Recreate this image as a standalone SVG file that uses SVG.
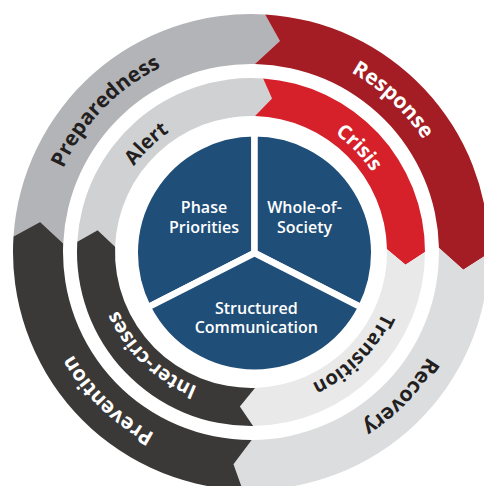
<svg xmlns="http://www.w3.org/2000/svg" width="484" height="486" viewBox="0 0 484 486">
<style>
.ring{font-family:"Open Sans","Liberation Sans",sans-serif;font-weight:700;text-anchor:middle}
.o{font-size:21px}
.i{font-size:20px}
.dk{fill:#231f20}
.wh{fill:#ffffff}
.pie{fill:#1f4e79;stroke:#ffffff;stroke-width:6.5;stroke-linejoin:round}
.pt{font-family:"Open Sans","Liberation Sans",sans-serif;font-weight:600;font-size:16px;fill:#ffffff;text-anchor:middle}
</style>
<defs>
<path id="aPrep" d="M66.3 342.1 A205.5 205.5 0 0 1 334.6 64.3"/>
<path id="aResp" d="M157.7 68.9 A205.5 205.5 0 0 1 440.2 332.3"/>
<path id="aReco" d="M435.7 161.9 A205.5 205.5 0 0 1 167.4 439.7"/>
<path id="aPrev" d="M341.1 436.7 A205.5 205.5 0 0 1 63.3 168.4"/>
<path id="aAler" d="M118.5 311.0 A145 145 0 0 1 314.6 121.7"/>
<path id="aCris" d="M192.0 119.5 A145 145 0 0 1 381.3 315.6"/>
<path id="aTran" d="M382.4 190.7 A145 145 0 0 1 189.7 383.4"/>
<path id="aInte" d="M314.6 382.3 A145 145 0 0 1 118.5 193.0"/>
</defs>
<rect width="484" height="486" fill="#ffffff"/>
<g id="preparedness">
<path fill="#b3b4b7" d="M13.5 236.6 A238 238 0 0 1 265.1 14.4 L279.9 41.0 L254.9 64.0 A188 188 0 0 0 63.2 243.5 L40.1 222.0 Z"/>
<text class="ring o dk"><textPath href="#aPrep" startOffset="50%">Preparedness</textPath></text>
</g>
<g id="response">
<path fill="#a41d24" d="M265.1 14.4 A238 238 0 0 1 489.0 253.2 L463.3 269.8 L439.0 248.1 A188 188 0 0 0 254.9 64.0 L279.9 41.0 Z"/>
<text class="ring o wh"><textPath href="#aResp" startOffset="50%">Response</textPath></text>
</g>
<g id="recovery">
<path fill="#dcdddf" d="M489.0 253.2 A238 238 0 0 1 242.7 489.9 L233.5 464.3 L251.7 440.0 A188 188 0 0 0 439.0 248.1 L463.3 269.8 Z"/>
<text class="ring o dk"><textPath href="#aReco" startOffset="50%">Recovery</textPath></text>
</g>
<g id="prevention">
<path fill="#3a3937" d="M242.7 489.9 A238 238 0 0 1 13.5 236.6 L40.1 222.0 L63.2 243.5 A188 188 0 0 0 251.7 440.0 L233.5 464.3 Z"/>
<text class="ring o wh"><textPath href="#aPrev" startOffset="50%">Prevention</textPath></text>
</g>
<g id="alert">
<path fill="#d0d1d3" d="M77.3 241.7 A174 174 0 0 1 263.1 78.4 L272.0 98.4 L255.0 116.1 A136 136 0 0 0 115.1 246.8 L97.6 230.2 Z"/>
<text class="ring i dk"><textPath href="#aAler" startOffset="50%">Alert</textPath></text>
</g>
<g id="crisis">
<path fill="#d6202a" d="M263.1 78.4 A174 174 0 0 1 425.0 252.0 L405.5 264.7 L387.0 249.2 A136 136 0 0 0 255.0 116.1 L272.0 98.4 Z"/>
<text class="ring i wh"><textPath href="#aCris" startOffset="50%">Crisis</textPath></text>
</g>
<g id="transition">
<path fill="#e9e9ea" d="M425.0 252.0 A174 174 0 0 1 253.1 426.0 L239.9 406.6 L255.0 387.9 A136 136 0 0 0 387.0 249.2 L405.5 264.7 Z"/>
<text class="ring i dk"><textPath href="#aTran" startOffset="50%">Transition</textPath></text>
</g>
<g id="inter-crises">
<path fill="#3a3937" d="M253.1 426.0 A174 174 0 0 1 77.3 241.7 L97.6 230.2 L115.1 246.8 A136 136 0 0 0 255.0 387.9 L239.9 406.6 Z"/>
<text class="ring i wh"><textPath href="#aInte" startOffset="50%">Inter-crises</textPath></text>
</g>
<g id="connectors"></g>
<g id="phase-priorities">
<path class="pie" d="M254.5 253 L147.8 307.4 A119.75 119.75 0 0 1 254.5 133.25 Z"/>
<text class="pt" x="204" y="213">Phase</text>
<text class="pt" x="204" y="232.7">Priorities</text>
</g>
<g id="whole-of-society">
<path class="pie" d="M254.5 253 L254.5 133.25 A119.75 119.75 0 0 1 361.2 307.4 Z"/>
<text class="pt" x="304.5" y="212.7">Whole-of-</text>
<text class="pt" x="304.5" y="232.7">Society</text>
</g>
<g id="structured-communication">
<path class="pie" d="M254.5 253 L361.2 307.4 A119.75 119.75 0 0 1 147.8 307.4 Z"/>
<text class="pt" x="256.3" y="314.3">Structured</text>
<text class="pt" x="256.3" y="333.3">Communication</text>
</g>
</svg>
